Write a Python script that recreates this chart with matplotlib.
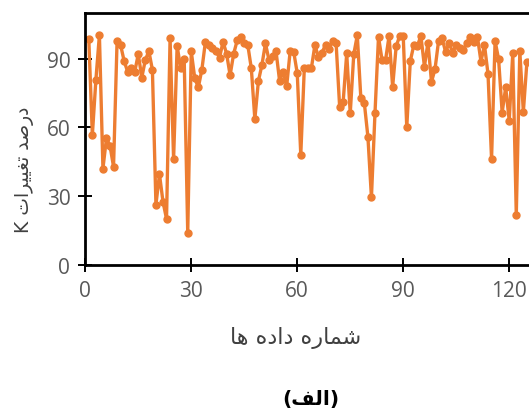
import matplotlib
matplotlib.use("Agg")
import matplotlib.pyplot as plt

# data
idx = list(range(1, 126))
pct = [98.6, 56.6, 80.7, 100.4, 42, 55.3, 52, 42.8, 97.8, 96,
       89, 84.3, 85.9, 84.3, 92, 81.8, 89.5, 93.3, 85.2, 26.2,
       39.5, 27.5, 20, 99, 46, 95.6, 85.9, 90, 14, 93.2,
       81.4, 77.5, 85.2, 97.4, 96, 94.8, 93.3, 90.5, 97.4, 92.2,
       82.8, 92.2, 98, 99.4, 97.1, 96, 85.8, 63.6, 80.2, 87.3,
       96.7, 89.5, 91, 93.2, 80.4, 84.4, 77.9, 93.4, 93, 83.7,
       48, 85.9, 85.9, 85.9, 96, 90.8, 92.7, 96, 94.2, 97.8,
       96.8, 69, 71.2, 92.3, 66.1, 92, 100.3, 72.8, 70.5, 55.9,
       29.4, 66.1, 99.6, 89.5, 89.5, 100, 77.7, 95.4, 100, 100,
       60, 89, 96, 95.6, 100, 86.6, 97.1, 79.9, 85.5, 97.8,
       98.9, 93, 96.8, 92.7, 96.2, 94.9, 93.9, 97.1, 99.7, 97.4,
       99.7, 88.8, 96, 83.3, 46.2, 97.8, 89.8, 66.5, 77.5, 62.9,
       92.4, 21.7, 93.3, 66.8, 88.4]
xticks = [0, 30, 60, 90, 120]
yticks = [0, 30, 60, 90]

ylabel_txt = "درصد تغییرات K"
xlabel_txt = "شماره داده ها"
caption_txt = "(الف)"

# matplotlib has no arabic shaping, so pick presentation forms by hand
# letter: (isolated, final, initial, medial); None -> does not join forward
FORMS = {
    "ا": ("\uFE8D", "\uFE8E", None, None),
    "د": ("\uFEA9", "\uFEAA", None, None),
    "ر": ("\uFEAD", "\uFEAE", None, None),
    "ص": ("\uFEB9", "\uFEBA", "\uFEBB", "\uFEBC"),
    "ت": ("\uFE95", "\uFE96", "\uFE97", "\uFE98"),
    "غ": ("\uFECD", "\uFECE", "\uFECF", "\uFED0"),
    "ی": ("\uFBFC", "\uFBFD", "\uFBFE", "\uFBFF"),
    "ش": ("\uFEB5", "\uFEB6", "\uFEB7", "\uFEB8"),
    "م": ("\uFEE1", "\uFEE2", "\uFEE3", "\uFEE4"),
    "ه": ("\uFEE9", "\uFEEA", "\uFEEB", "\uFEEC"),
    "ل": ("\uFEDD", "\uFEDE", "\uFEDF", "\uFEE0"),
    "ف": ("\uFED1", "\uFED2", "\uFED3", "\uFED4"),
}


def shape(text):
    out = []
    for i, ch in enumerate(text):
        if ch not in FORMS:
            out.append(ch)
            continue
        prev = text[i - 1] if i > 0 else ""
        nxt = text[i + 1] if i + 1 < len(text) else ""
        joins_prev = prev in FORMS and FORMS[prev][2] is not None
        joins_next = nxt in FORMS and FORMS[ch][2] is not None
        iso, fin, ini, med = FORMS[ch]
        if joins_prev and joins_next:
            out.append(med)
        elif joins_prev:
            out.append(fin)
        elif joins_next:
            out.append(ini)
        else:
            out.append(iso)
    # right-to-left: reverse arabic runs, keep latin words as they are
    words = "".join(out).split(" ")
    vis = " ".join(w[::-1] if any(c not in "K()" for c in w) else w for w in words[::-1])
    return vis.translate(str.maketrans("()", ")("))


plt.rcParams['font.family'] = ['Open Sans', 'DejaVu Sans']
fig = plt.figure(figsize=(5.29, 4.14), dpi=100)
ax = fig.add_axes([0.1612, 0.3582, 0.8388, 0.608])

ax.plot(idx, pct, color="#ED7D31", lw=2.4, marker="o", ms=5)

ax.set_xlim(0, 125.6)
ax.set_ylim(0, 110)
ax.set_xticks(xticks)
ax.set_yticks(yticks)
ax.spines["right"].set_visible(False)
for s in ["left", "bottom", "top"]:
    ax.spines[s].set_linewidth(2)
ax.tick_params(direction="inout", length=9.5, width=1.4, labelsize=15,
               labelcolor="#595959", pad=6)

fig.text(25 / 529, 1 - 170 / 414, shape(ylabel_txt), rotation=90,
         ha="center", va="center", fontsize=13.5, color="#404040",
         family=['DejaVu Sans'])
fig.text(296 / 529, 1 - 338 / 414, shape(xlabel_txt),
         ha="center", va="center", fontsize=16, color="#404040",
         family=['DejaVu Sans'])
fig.text(311 / 529, 1 - 400 / 414, shape(caption_txt),
         ha="center", va="center", fontsize=14.5, color="black",
         fontweight="bold", family=['DejaVu Sans'])

fig.savefig("out.png", dpi=100)
